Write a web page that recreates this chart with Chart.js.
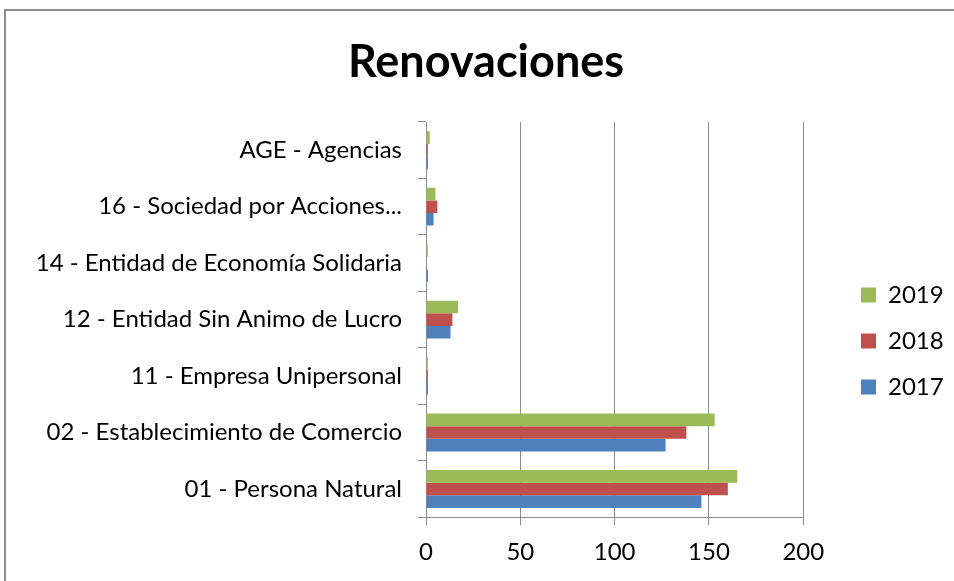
<!DOCTYPE html>
<html><head><meta charset="utf-8">
<script src="https://cdn.jsdelivr.net/npm/chart.js@4/dist/chart.umd.min.js"></script>
<style>
html,body{margin:0;padding:0;background:#fff;}
#wrap{position:absolute;left:0;top:0;width:954px;height:581px;overflow:hidden;}
#frame{position:absolute;left:4px;top:9px;width:960px;height:600px;border:2px solid #8c8c8c;box-sizing:border-box;}
canvas{position:absolute;left:0;top:0;}
</style></head>
<body>
<div id="wrap"><div id="frame"></div><canvas id="c" width="954" height="581"></canvas></div>
<script>
const categories = ["AGE - Agencias","16 - Sociedad por Acciones...","14 - Entidad de Economía Solidaria","12 - Entidad Sin Animo de Lucro","11 - Empresa Unipersonal","02 - Establecimiento de Comercio","01 - Persona Natural"];
const seriesNames = ["2019","2018","2017"];
const values2019 = [2,5,1,17,1,153,165];
const values2018 = [1,6,0,14,1,138,160];
const values2017 = [1,4,1,13,1,127,146];
const xTicks = [0,50,100,150,200];
const colors = ["#9bbb59","#c0504d","#4f81bd"];

const FONT = "Lato, 'Open Sans', sans-serif";
const boxShift = {
  id: 'boxShift',
  afterLayout(chart) {
    const l = chart.legend;
    const dx = 863 - (chart.chartArea.right + 23 + 22) + 21;
    const dy = 51;
    l.left += dx; l.right += dx; l.top += dy; l.bottom += dy;
    const t = chart.titleBlock;
    t.left += 27; t.right += 27;
  }
};
new Chart(document.getElementById('c'), {
  type: 'bar',
  data: {
    labels: categories,
    datasets: [values2019, values2018, values2017].map((d,i)=>({
      label: seriesNames[i], data: d, backgroundColor: colors[i], borderWidth: 0,
      barPercentage: 1.0, categoryPercentage: 0.67
    }))
  },
  options: {
    indexAxis: 'y',
    responsive: false,
    animation: false,
    layout: {padding: {left: 0, right: 36, top: 0, bottom: 1}},
    scales: {
      x: {
        min: xTicks[0], max: xTicks[xTicks.length-1],
        afterBuildTicks: (s)=>{ s.ticks = xTicks.map(v=>({value:v})); },
        grid: {color: '#8c8c8c', lineWidth: 1, tickLength: 8, drawTicks: true},
        border: {color: '#8c8c8c', width: 1},
        ticks: {color: '#000', font: {family: FONT, size: 24}, padding: 13}
      },
      y: {
        afterFit: (s)=>{ s.width = 426; },
        grid: {drawOnChartArea: false, color: '#8c8c8c', tickLength: 8, offset: true},
        border: {color: '#8c8c8c', width: 1},
        ticks: {color: '#000', font: {family: FONT, size: 24}, padding: 16, autoSkip: false}
      }
    },
    plugins: {
      title: {display: true, text: 'Renovaciones', color: '#000', font: {family: FONT, size: 45, weight: 'bold'}, padding: {top: 35, bottom: 33}},
      legend: {position: 'right', labels: {color: '#000', font: {family: FONT, size: 24}, boxWidth: 15, boxHeight: 15, padding: 22}},
      tooltip: {enabled: false}
    }
  },
  plugins: [boxShift]
});
</script>
</body></html>
